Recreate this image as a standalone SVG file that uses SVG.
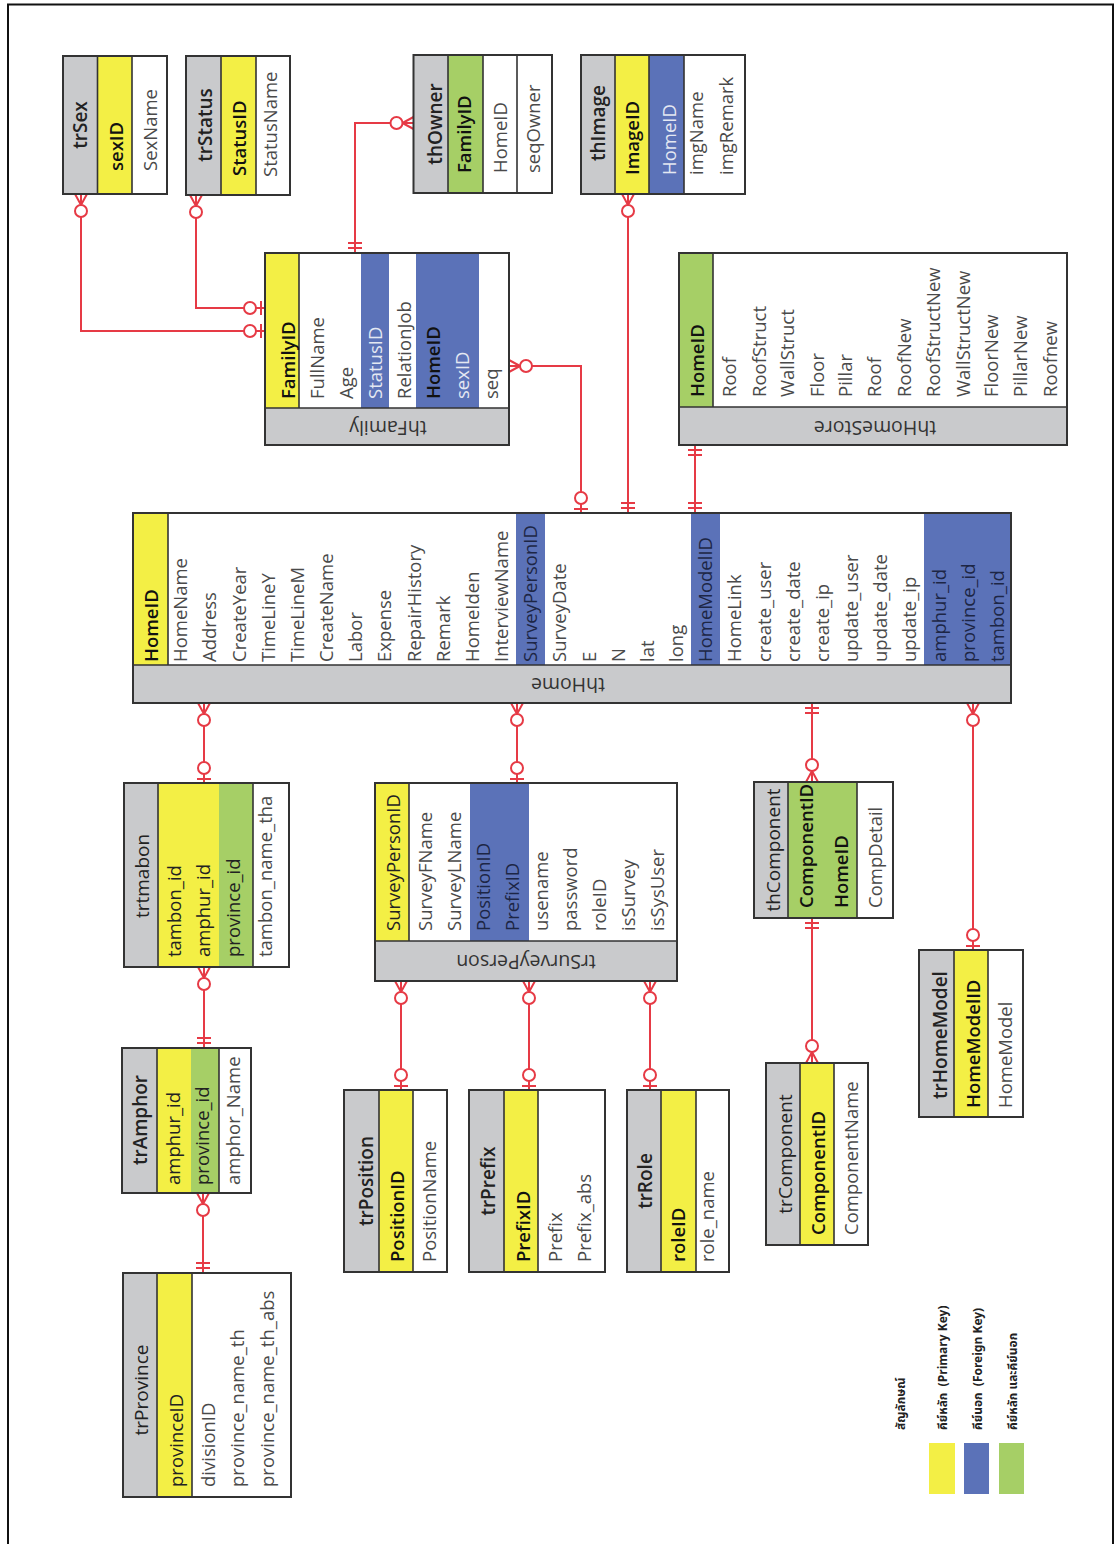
<svg xmlns="http://www.w3.org/2000/svg" xmlns:xlink="http://www.w3.org/1999/xlink" width="1117" height="1544" viewBox="0 0 1117 1544">
<style>
.g{fill:#c9cacc}.y{fill:#f3ef45}.b{fill:#5b72b8}.gr{fill:#a6cf66}.w{fill:#fff}
.tb{fill:none;stroke:#333;stroke-width:2}
.sep{stroke:#333;stroke-width:1.6;fill:none}
text{font-family:"Open Sans","Noto Sans","DejaVu Sans",sans-serif;font-size:18.5px;fill:#4a4a4a}
.k{font-weight:600;fill:#111}
.d{fill:#222}
.h{font-weight:600;fill:#222;text-anchor:middle;font-size:19px}
.hr{fill:#222;text-anchor:middle;font-size:19px}
.n{fill:#333;text-anchor:middle;font-size:19.5px}
.lt{fill:#e4e8f2}
.dk{fill:#1d2645}
.lg{font-family:"Noto Sans Thai","Loma","Garuda","Tlwg Typo","Liberation Sans","DejaVu Sans",sans-serif;font-size:12px;font-weight:bold;fill:#222}
.rel{stroke:#e63a45;stroke-width:2;fill:none}
</style>
<defs>
<g id="zm" stroke="#e63a45" stroke-width="2" fill="none"><path d="M-6,0 L0,11 M6,0 L0,11 M0,0 V11"/><circle cx="0" cy="17" r="6" fill="#fff"/></g>
<g id="zo" stroke="#e63a45" stroke-width="2" fill="none"><path d="M-7,4 H7"/><circle cx="0" cy="15" r="6" fill="#fff"/></g>
<g id="oo" stroke="#e63a45" stroke-width="2" fill="none"><path d="M-7,5 H7 M-7,10 H7"/></g>
</defs>
<rect x="0" y="0" width="1117" height="1544" fill="#fff"/>
<rect x="8" y="4.5" width="1105" height="1560" fill="none" stroke="#111" stroke-width="2"/>

<g id="connectors">
<path class="rel" d="M81,194V331H265 M196,195V308H265 M413.5,123H355V253 M509,366H581V513 M628,194V513 M695,445V513 M204,703V783 M204,967V1048 M203,1193V1273 M517,703V783 M401,981V1090 M529,981V1090 M650,981V1090 M812,703V782 M812,918V1063 M973,703V950"/>
<use xlink:href="#zm" transform="translate(81,194)"/>
<use xlink:href="#zo" transform="translate(265,331) rotate(90)"/>
<use xlink:href="#zm" transform="translate(196,195)"/>
<use xlink:href="#zo" transform="translate(265,308) rotate(90)"/>
<use xlink:href="#zm" transform="translate(413.5,123) rotate(90)"/>
<use xlink:href="#oo" transform="translate(355,253) rotate(180)"/>
<use xlink:href="#zm" transform="translate(509,366) rotate(-90)"/>
<use xlink:href="#zo" transform="translate(581,513) rotate(180)"/>
<use xlink:href="#zm" transform="translate(628,194)"/>
<use xlink:href="#oo" transform="translate(628,513) rotate(180)"/>
<use xlink:href="#oo" transform="translate(695,445)"/>
<use xlink:href="#oo" transform="translate(695,513) rotate(180)"/>
<use xlink:href="#zm" transform="translate(204,703)"/>
<use xlink:href="#zo" transform="translate(204,783) rotate(180)"/>
<use xlink:href="#zm" transform="translate(204,967)"/>
<use xlink:href="#oo" transform="translate(204,1048) rotate(180)"/>
<use xlink:href="#zm" transform="translate(203,1193)"/>
<use xlink:href="#oo" transform="translate(203,1273) rotate(180)"/>
<use xlink:href="#zm" transform="translate(517,703)"/>
<use xlink:href="#zo" transform="translate(517,783) rotate(180)"/>
<use xlink:href="#zm" transform="translate(401,981)"/>
<use xlink:href="#zo" transform="translate(401,1090) rotate(180)"/>
<use xlink:href="#zm" transform="translate(529,981)"/>
<use xlink:href="#zo" transform="translate(529,1090) rotate(180)"/>
<use xlink:href="#zm" transform="translate(650,981)"/>
<use xlink:href="#zo" transform="translate(650,1090) rotate(180)"/>
<use xlink:href="#oo" transform="translate(812,703)"/>
<use xlink:href="#zm" transform="translate(812,782) rotate(180)"/>
<use xlink:href="#oo" transform="translate(812,918)"/>
<use xlink:href="#zm" transform="translate(812,1063) rotate(180)"/>
<use xlink:href="#zm" transform="translate(973,703)"/>
<use xlink:href="#zo" transform="translate(973,950) rotate(180)"/>
</g>

<g id="trSex">
<rect class="g" x="63" y="56" width="34.5" height="138"/>
<rect class="y" x="97.5" y="56" width="34.5" height="138"/>
<rect class="w" x="132" y="56" width="35" height="138"/>
<path class="sep" d="M97.5,56V194M132,56V194"/>
<rect class="tb" x="63" y="56" width="104" height="138"/>
<text class="h" transform="translate(87,125) rotate(-90)">trSex</text>
<text class="k" transform="translate(123,171) rotate(-90)">sexID</text>
<text transform="translate(157,171) rotate(-90)">SexName</text>
</g>

<g id="trStatus">
<rect class="g" x="186" y="56" width="35" height="139"/>
<rect class="y" x="221" y="56" width="35" height="139"/>
<rect class="w" x="256" y="56" width="34" height="139"/>
<path class="sep" d="M221,56V195M256,56V195"/>
<rect class="tb" x="186" y="56" width="104" height="139"/>
<text class="h" transform="translate(212,125) rotate(-90)">trStatus</text>
<text class="k" transform="translate(246,176) rotate(-90)">StatusID</text>
<text transform="translate(277,177) rotate(-90)">StatusName</text>
</g>

<g id="thOwner">
<rect class="g" x="413.5" y="55" width="34.5" height="138"/>
<rect class="gr" x="448" y="55" width="35" height="138"/>
<rect class="w" x="483" y="55" width="69" height="138"/>
<path class="sep" d="M448,55V193M483,55V193M517,55V193"/>
<rect class="tb" x="413.5" y="55" width="138.5" height="138"/>
<text class="h" transform="translate(442,124) rotate(-90)">thOwner</text>
<text class="k" transform="translate(471,173) rotate(-90)">FamilyID</text>
<text transform="translate(507,173) rotate(-90)">HomeID</text>
<text transform="translate(540,173) rotate(-90)">seqOwner</text>
</g>

<g id="thImage">
<rect class="g" x="581" y="55" width="34" height="139"/>
<rect class="y" x="615" y="55" width="34" height="139"/>
<rect class="b" x="649" y="55" width="35" height="139"/>
<rect class="w" x="684" y="55" width="61" height="139"/>
<path class="sep" d="M615,55V194M649,55V194M684,55V194"/>
<rect class="tb" x="581" y="55" width="164" height="139"/>
<text class="h" transform="translate(605,123) rotate(-90)">thImage</text>
<text class="k" transform="translate(639,175) rotate(-90)">ImageID</text>
<text class="lt" transform="translate(676,175) rotate(-90)">HomeID</text>
<text transform="translate(703,175) rotate(-90)">imgName</text>
<text transform="translate(733,175) rotate(-90)">imgRemark</text>
</g>

<g id="thFamily">
<rect class="w" x="265" y="253" width="244" height="155"/>
<rect class="y" x="265" y="253" width="34" height="155"/>
<rect class="b" x="361" y="253" width="28" height="155"/>
<rect class="b" x="416" y="253" width="63" height="155"/>
<rect class="g" x="265" y="408" width="244" height="37"/>
<path class="sep" d="M299,253V408M265,408H509"/>
<rect class="tb" x="265" y="253" width="244" height="192"/>
<text class="k" transform="translate(295,399) rotate(-90)">FamilyID</text>
<text transform="translate(324,399) rotate(-90)">FullName</text>
<text transform="translate(353,399) rotate(-90)">Age</text>
<text class="lt" transform="translate(382,399) rotate(-90)">StatusID</text>
<text transform="translate(411,399) rotate(-90)">RelationJob</text>
<text class="k" transform="translate(440,399) rotate(-90)">HomeID</text>
<text class="lt" transform="translate(469,399) rotate(-90)">sexID</text>
<text transform="translate(498,399) rotate(-90)">seq</text>
<text class="n" transform="translate(388,421) rotate(180)">thFamily</text>
</g>

<g id="thHomeStore">
<rect class="w" x="679" y="253" width="388" height="154"/>
<rect class="gr" x="679" y="253" width="34" height="154"/>
<rect class="g" x="679" y="407" width="388" height="38"/>
<path class="sep" d="M713,253V407M679,407H1067"/>
<rect class="tb" x="679" y="253" width="388" height="192"/>
<text class="k" transform="translate(704,397) rotate(-90)">HomeID</text>
<text transform="translate(736,397) rotate(-90)">Roof</text>
<text transform="translate(766,397) rotate(-90)">RoofStruct</text>
<text transform="translate(794,397) rotate(-90)">WallStruct</text>
<text transform="translate(824,397) rotate(-90)">Floor</text>
<text transform="translate(852,397) rotate(-90)">Pillar</text>
<text transform="translate(881,397) rotate(-90)">Roof</text>
<text transform="translate(911,397) rotate(-90)">RoofNew</text>
<text transform="translate(940,397) rotate(-90)">RoofStructNew</text>
<text transform="translate(970,397) rotate(-90)">WallStructNew</text>
<text transform="translate(998,397) rotate(-90)">FloorNew</text>
<text transform="translate(1027,397) rotate(-90)">PillarNew</text>
<text transform="translate(1057,397) rotate(-90)">Roofnew</text>
<text class="n" transform="translate(875,421) rotate(180)">thHomeStore</text>
</g>

<g id="thHome">
<rect class="w" x="133" y="513" width="878" height="152"/>
<rect class="y" x="133" y="513" width="35" height="152"/>
<rect class="b" x="516" y="513" width="29" height="152"/>
<rect class="b" x="691" y="513" width="29" height="152"/>
<rect class="b" x="924" y="513" width="87" height="152"/>
<rect class="g" x="133" y="665" width="878" height="38"/>
<path class="sep" d="M168,513V665M133,665H1011"/>
<rect class="tb" x="133" y="513" width="878" height="190"/>
<text class="k" transform="translate(158,662) rotate(-90)">HomeID</text>
<text transform="translate(187.2,662) rotate(-90)">HomeName</text>
<text transform="translate(216.3,662) rotate(-90)">Address</text>
<text transform="translate(245.5,662) rotate(-90)">CreateYear</text>
<text transform="translate(274.7,662) rotate(-90)">TimeLineY</text>
<text transform="translate(303.9,662) rotate(-90)">TimeLineM</text>
<text transform="translate(333,662) rotate(-90)">CreateName</text>
<text transform="translate(362.2,662) rotate(-90)">Labor</text>
<text transform="translate(391.4,662) rotate(-90)">Expense</text>
<text transform="translate(420.5,662) rotate(-90)">RepairHistory</text>
<text transform="translate(449.7,662) rotate(-90)">Remark</text>
<text transform="translate(478.9,662) rotate(-90)">HomeIden</text>
<text transform="translate(508,662) rotate(-90)">InterviewName</text>
<text class="dk" transform="translate(537.2,662) rotate(-90)">SurveyPersonID</text>
<text transform="translate(566.4,662) rotate(-90)">SurveyDate</text>
<text transform="translate(595.6,662) rotate(-90)">E</text>
<text transform="translate(624.7,662) rotate(-90)">N</text>
<text transform="translate(653.9,662) rotate(-90)">lat</text>
<text transform="translate(683.1,662) rotate(-90)">long</text>
<text class="dk" transform="translate(712.2,662) rotate(-90)">HomeModelID</text>
<text transform="translate(741.4,662) rotate(-90)">HomeLink</text>
<text transform="translate(770.6,662) rotate(-90)">create_user</text>
<text transform="translate(799.7,662) rotate(-90)">create_date</text>
<text transform="translate(828.9,662) rotate(-90)">create_ip</text>
<text transform="translate(858.1,662) rotate(-90)">update_user</text>
<text transform="translate(887.3,662) rotate(-90)">update_date</text>
<text transform="translate(916.4,662) rotate(-90)">update_ip</text>
<text class="dk" transform="translate(945.6,662) rotate(-90)">amphur_id</text>
<text class="dk" transform="translate(974.8,662) rotate(-90)">province_id</text>
<text class="dk" transform="translate(1003.9,662) rotate(-90)">tambon_id</text>
<text class="n" transform="translate(568,678) rotate(180)">thHome</text>
</g>

<g id="trtmabon">
<rect class="g" x="124" y="783" width="34" height="184"/>
<rect class="y" x="158" y="783" width="61" height="184"/>
<rect class="gr" x="219" y="783" width="34" height="184"/>
<rect class="w" x="253" y="783" width="36" height="184"/>
<path class="sep" d="M158,783V967M253,783V967"/>
<rect class="tb" x="124" y="783" width="165" height="184"/>
<text class="hr" transform="translate(149,876) rotate(-90)">trtmabon</text>
<text class="d" transform="translate(181,957) rotate(-90)">tambon_id</text>
<text class="d" transform="translate(210,957) rotate(-90)">amphur_id</text>
<text class="d" transform="translate(240,957) rotate(-90)">province_id</text>
<text transform="translate(272,957) rotate(-90)">tambon_name_tha</text>
</g>

<g id="trAmphor">
<rect class="g" x="122" y="1048" width="35" height="145"/>
<rect class="y" x="157" y="1048" width="34" height="145"/>
<rect class="gr" x="191" y="1048" width="28" height="145"/>
<rect class="w" x="219" y="1048" width="32" height="145"/>
<path class="sep" d="M157,1048V1193M219,1048V1193"/>
<rect class="tb" x="122" y="1048" width="129" height="145"/>
<text class="h" transform="translate(147,1120) rotate(-90)">trAmphor</text>
<text class="d" transform="translate(180,1185) rotate(-90)">amphur_id</text>
<text class="d" transform="translate(209,1185) rotate(-90)">province_id</text>
<text transform="translate(240,1185) rotate(-90)">amphor_Name</text>
</g>

<g id="trProvince">
<rect class="g" x="123" y="1273" width="34" height="224"/>
<rect class="y" x="157" y="1273" width="35" height="224"/>
<rect class="w" x="192" y="1273" width="99" height="224"/>
<path class="sep" d="M157,1273V1497M192,1273V1497"/>
<rect class="tb" x="123" y="1273" width="168" height="224"/>
<text class="hr" transform="translate(148,1390) rotate(-90)">trProvince</text>
<text class="d" transform="translate(183,1487) rotate(-90)">provinceID</text>
<text transform="translate(215,1487) rotate(-90)">divisionID</text>
<text transform="translate(244,1487) rotate(-90)">province_name_th</text>
<text transform="translate(274,1487) rotate(-90)">province_name_th_abs</text>
</g>

<g id="trSurveyPerson">
<rect class="w" x="375" y="783" width="302" height="158"/>
<rect class="y" x="375" y="783" width="34" height="158"/>
<rect class="b" x="470" y="783" width="59" height="158"/>
<rect class="g" x="375" y="941" width="302" height="40"/>
<path class="sep" d="M409,783V941M375,941H677"/>
<rect class="tb" x="375" y="783" width="302" height="198"/>
<text class="d" transform="translate(400,931) rotate(-90)">SurveyPersonID</text>
<text transform="translate(432,931) rotate(-90)">SurveyFName</text>
<text transform="translate(461,931) rotate(-90)">SurveyLName</text>
<text class="dk" transform="translate(490,931) rotate(-90)">PositionID</text>
<text class="dk" transform="translate(519,931) rotate(-90)">PrefixID</text>
<text transform="translate(548,931) rotate(-90)">usename</text>
<text transform="translate(577,931) rotate(-90)">password</text>
<text transform="translate(606,931) rotate(-90)">roleID</text>
<text transform="translate(635,931) rotate(-90)">isSurvey</text>
<text transform="translate(664,931) rotate(-90)">isSysUser</text>
<text class="n" transform="translate(526,955) rotate(180)">trSurveyPerson</text>
</g>

<g id="trPosition">
<rect class="g" x="344" y="1090" width="35" height="182"/>
<rect class="y" x="379" y="1090" width="34" height="182"/>
<rect class="w" x="413" y="1090" width="34" height="182"/>
<path class="sep" d="M379,1090V1272M413,1090V1272"/>
<rect class="tb" x="344" y="1090" width="103" height="182"/>
<text class="h" transform="translate(373,1181) rotate(-90)">trPosition</text>
<text class="k" transform="translate(404,1262) rotate(-90)">PositionID</text>
<text transform="translate(436,1262) rotate(-90)">PositionName</text>
</g>

<g id="trPrefix">
<rect class="g" x="469" y="1090" width="35" height="182"/>
<rect class="y" x="504" y="1090" width="34" height="182"/>
<rect class="w" x="538" y="1090" width="67" height="182"/>
<path class="sep" d="M504,1090V1272M538,1090V1272"/>
<rect class="tb" x="469" y="1090" width="136" height="182"/>
<text class="h" transform="translate(495,1181) rotate(-90)">trPrefix</text>
<text class="k" transform="translate(530,1262) rotate(-90)">PrefixID</text>
<text transform="translate(562,1262) rotate(-90)">Prefix</text>
<text transform="translate(591,1262) rotate(-90)">Prefix_abs</text>
</g>

<g id="trRole">
<rect class="g" x="627" y="1090" width="34" height="182"/>
<rect class="y" x="661" y="1090" width="35" height="182"/>
<rect class="w" x="696" y="1090" width="33" height="182"/>
<path class="sep" d="M661,1090V1272M696,1090V1272"/>
<rect class="tb" x="627" y="1090" width="102" height="182"/>
<text class="h" transform="translate(652,1181) rotate(-90)">trRole</text>
<text class="k" transform="translate(685,1262) rotate(-90)">roleID</text>
<text transform="translate(714,1262) rotate(-90)">role_name</text>
</g>

<g id="thComponent">
<rect class="g" x="754" y="782" width="34" height="136"/>
<rect class="gr" x="788" y="782" width="69" height="136"/>
<rect class="w" x="857" y="782" width="36" height="136"/>
<path class="sep" d="M788,782V918M857,782V918"/>
<rect class="tb" x="754" y="782" width="139" height="136"/>
<text class="hr" transform="translate(780,850) rotate(-90)">thComponent</text>
<text class="k" transform="translate(813,908) rotate(-90)">ComponentID</text>
<text class="k" transform="translate(848,908) rotate(-90)">HomeID</text>
<text transform="translate(882,908) rotate(-90)">CompDetail</text>
</g>

<g id="trComponent">
<rect class="g" x="766" y="1063" width="34" height="182"/>
<rect class="y" x="800" y="1063" width="34" height="182"/>
<rect class="w" x="834" y="1063" width="34" height="182"/>
<path class="sep" d="M800,1063V1245M834,1063V1245"/>
<rect class="tb" x="766" y="1063" width="102" height="182"/>
<text class="hr" transform="translate(792,1154) rotate(-90)">trComponent</text>
<text class="k" transform="translate(825,1235) rotate(-90)">ComponentID</text>
<text transform="translate(858,1235) rotate(-90)">ComponentName</text>
</g>

<g id="trHomeModel">
<rect class="g" x="919" y="950" width="35" height="167"/>
<rect class="y" x="954" y="950" width="34" height="167"/>
<rect class="w" x="988" y="950" width="35" height="167"/>
<path class="sep" d="M954,950V1117M988,950V1117"/>
<rect class="tb" x="919" y="950" width="104" height="167"/>
<text class="h" transform="translate(947,1035) rotate(-90)">trHomeModel</text>
<text class="k" transform="translate(980,1108) rotate(-90)">HomeModelID</text>
<text transform="translate(1012,1108) rotate(-90)">HomeModel</text>
</g>

<g id="legend">
<rect class="y" x="929" y="1443" width="26" height="51"/>
<rect class="b" x="964" y="1443" width="25" height="51"/>
<rect class="gr" x="999" y="1443" width="25" height="51"/>
<text class="lg" transform="translate(905,1430) rotate(-90)">สัญลักษณ์</text>
<text class="lg" xml:space="preserve" transform="translate(947,1430) rotate(-90)">คีย์หลัก  (Primary Key)</text>
<text class="lg" xml:space="preserve" transform="translate(982,1430) rotate(-90)">คีย์นอก  (Foreign Key)</text>
<text class="lg" transform="translate(1017,1430) rotate(-90)">คีย์หลัก และคีย์นอก</text>
</g>
</svg>
